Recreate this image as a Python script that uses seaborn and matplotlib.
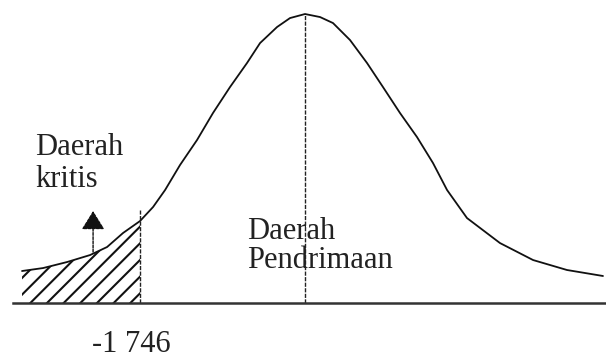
"""
Kurva distribusi normal: daerah kritis (uji satu sisi kiri) vs daerah penerimaan.
"""
import matplotlib
matplotlib.use("Agg")
import matplotlib.pyplot as plt
import seaborn as sns
import pandas as pd

# nilai kritis
Z_CRIT = -1.746

# titik-titik kurva, x dalam satuan z, y = tinggi kurva
curve_z = [-2.995, -2.772, -2.519, -2.275, -2.095, -1.926, -1.746, -1.608,
           -1.481, -1.323, -1.143, -0.974, -0.794, -0.614, -0.476, -0.296,
           -0.159, 0.0, 0.159, 0.296, 0.476, 0.656, 0.825, 1.005, 1.185,
           1.354, 1.503, 1.714, 2.063, 2.413, 2.772, 3.153]
curve_h = [0.0443, 0.0484, 0.0567, 0.0664, 0.0775, 0.0969, 0.1135, 0.1329,
           0.1564, 0.1910, 0.2256, 0.2630, 0.2989, 0.3322, 0.3598, 0.3820,
           0.3944, 0.4000, 0.3958, 0.3875, 0.3640, 0.3322, 0.2989, 0.2630,
           0.2297, 0.1938, 0.1564, 0.1176, 0.0830, 0.0595, 0.0457, 0.0374]

AXIS_START = -3.09   # awal garis sumbu
PEAK = 0.400
CRIT_TOP = 0.1287

label_kritis = "Daerah\nkritis"
label_terima = "Daerah\nPendrimaan"
label_z = "-1 746"

sns.set_theme(style="white")
plt.rcParams["font.family"] = ["Liberation Serif", "DejaVu Serif"]
plt.rcParams["hatch.linewidth"] = 1.5

df = pd.DataFrame({"z": curve_z, "h": curve_h})

fig = plt.figure(figsize=(6.06, 3.58), dpi=100)
ax = fig.add_axes([0, 0, 1, 1])

sns.lineplot(data=df, x="z", y="h", ax=ax, color="#111111", lw=1.3,
             estimator=None)

# daerah kritis diarsir
left = df[df["z"] <= Z_CRIT]
ax.fill_between(left["z"], 0, left["h"], facecolor="none",
                edgecolor="#111111", hatch="//", lw=0)

# garis vertikal: nilai kritis dan rata-rata
ax.vlines(Z_CRIT, 0, CRIT_TOP, color="#222222", lw=1.0,
          linestyles=(0, (3, 1)))
ax.vlines(0, 0, PEAK, color="#222222", lw=1.0, linestyles=(0, (3, 1)))

# panah ke daerah kritis
ax.annotate("", xy=(-2.243, 0.1273), xytext=(-2.243, 0.0706),
            arrowprops=dict(arrowstyle="-|>,head_length=0.58,head_width=0.36",
                            mutation_scale=20, color="#111111", lw=1.0,
                            linestyle=(0, (2, 1)), shrinkA=0, shrinkB=0))

ax.text(-2.857, 0.1605, label_kritis, fontsize=22, ha="left",
        va="baseline", linespacing=1.15, color="#222222")
ax.text(-0.614, 0.0484, label_terima, fontsize=22, ha="left",
        va="baseline", linespacing=1.0, color="#222222")
ax.text(-2.254, -0.0678, label_z, fontsize=22, ha="left", va="baseline",
        color="#222222")

ax.set_xlim(-3.228, 3.185)
ax.set_ylim(-0.0761, 0.4194)
ax.set_xticks([])
ax.set_yticks([])
ax.set_xlabel("")
ax.set_ylabel("")
for side in ["top", "left", "right"]:
    ax.spines[side].set_visible(False)
ax.spines["bottom"].set_position(("data", 0))
ax.spines["bottom"].set_bounds(AXIS_START, 3.185)
ax.spines["bottom"].set_color("#333333")
ax.spines["bottom"].set_linewidth(1.8)

fig.savefig("out.png", dpi=100, facecolor="white")
